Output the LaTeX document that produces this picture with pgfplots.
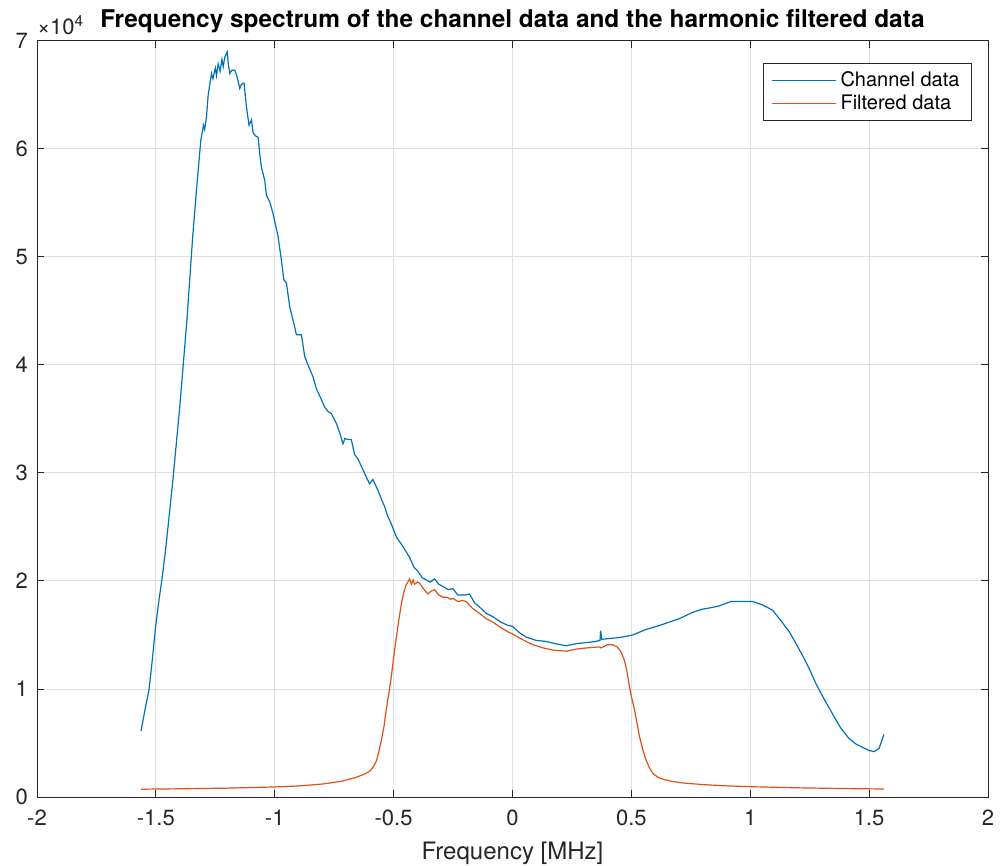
\documentclass[border=0pt]{standalone}
\usepackage{pgfplots}
\pgfplotsset{compat=1.18}
\usepackage{fontspec}
\setmainfont{TeX Gyre Heros}
\definecolor{mblue}{rgb}{0,0.447,0.741}
\definecolor{mred}{rgb}{0.85,0.325,0.098}
\definecolor{axgray}{rgb}{0.15,0.15,0.15}
\begin{document}
\begin{tikzpicture}
\useasboundingbox (-18.5pt,-34.5pt) rectangle (481.5pt,398.5pt);
\begin{axis}[
  at={(0,0)}, anchor=south west,
  scale only axis, width=475.5pt, height=378pt,
  xmin=-2, xmax=2, ymin=0, ymax=70000,
  xtick={-2,-1.5,...,2},
  ytick={0,10000,20000,30000,40000,50000,60000,70000},
  scaled y ticks=base 10:-4,
  ytick scale label code/.code={×10\textsuperscript{4}},
  every y tick scale label/.style={at={(rel axis cs:0,1)}, anchor=south west, inner sep=0pt, xshift=1pt, yshift=3pt, font=\fontsize{11pt}{13pt}\selectfont, text=axgray},
  /pgf/number format/assume math mode=true,
  tick label style={font=\fontsize{11pt}{13pt}\selectfont, text=axgray},
  xticklabel style={yshift=-3pt},
  yticklabel style={xshift=-1pt},
  grid=major,
  major grid style={color=black!13, line width=0.5pt},
  axis line style={color=axgray, line width=0.5pt},
  major tick style={color=axgray, line width=0.5pt},
  major tick length=3.5pt,
  tick align=inside,
  xlabel={Frequency [MHz]},
  xlabel style={font=\fontsize{12pt}{14pt}\selectfont, text=axgray, yshift=-1pt},
  title={\bfseries Frequency spectrum of the channel data and the harmonic filtered data},
  title style={font=\fontsize{12.2pt}{14pt}\selectfont, yshift=-5.5pt},
  legend style={at={(rel axis cs:1,1)}, anchor=north east, xshift=-8pt, yshift=-11pt,
    font=\fontsize{10pt}{12pt}\selectfont, draw=axgray, line width=0.5pt, inner ysep=2pt, inner xsep=4pt,
    row sep=-1.5pt, cells={anchor=west}},
  legend image code/.code={\draw[#1, line width=0.6pt] (0pt,0pt) -- (32pt,0pt);},
]
\addplot[color=mblue, line width=0.6pt] coordinates {
(-1.5625,6100) (-1.543,8400) (-1.529,9900) (-1.515,12700) (-1.501,15800) (-1.487,18200)
(-1.473,20400) (-1.459,22900) (-1.43,29000) (-1.40,36000) (-1.37,44000) (-1.346,51600)
(-1.33,56000) (-1.311,60800) (-1.30,62200) (-1.295,61800) (-1.287,63000) (-1.28,65000)
(-1.266,67000) (-1.26,66500) (-1.25,67500) (-1.245,66800) (-1.238,67900) (-1.23,67200)
(-1.222,68300) (-1.217,67600) (-1.21,68500) (-1.20,69000) (-1.195,67800) (-1.189,67000)
(-1.18,67300) (-1.168,67300) (-1.16,66800) (-1.147,65600) (-1.14,66000) (-1.129,66100)
(-1.125,65200) (-1.119,63900) (-1.112,62800) (-1.108,62200) (-1.098,62700) (-1.091,61500)
(-1.08,61200) (-1.07,61100) (-1.063,59500) (-1.056,58300) (-1.042,57100) (-1.035,55700)
(-1.021,55100) (-1.007,54000) (-0.986,51900) (-0.972,49700) (-0.962,47900) (-0.951,47600)
(-0.937,45400) (-0.916,43500) (-0.909,42800) (-0.888,42800) (-0.874,40800) (-0.860,40000)
(-0.839,38900) (-0.825,37800) (-0.804,36800) (-0.790,36100) (-0.776,35700) (-0.762,35500)
(-0.741,34600) (-0.725,33600) (-0.713,32700) (-0.705,33200) (-0.692,33100) (-0.678,33100)
(-0.664,31700) (-0.650,31300) (-0.629,30300) (-0.610,29400) (-0.601,29000) (-0.587,29400)
(-0.566,28400) (-0.550,27500) (-0.538,26900) (-0.525,26000) (-0.510,25300) (-0.489,24100)
(-0.461,23200) (-0.433,22200) (-0.415,21300) (-0.398,20900) (-0.380,20300) (-0.363,20100)
(-0.345,19900) (-0.328,20200) (-0.31,19700) (-0.293,19500) (-0.27,19200) (-0.251,19300)
(-0.23,18700) (-0.20,18700) (-0.181,18800) (-0.16,18000) (-0.139,17600) (-0.11,17000)
(-0.083,16700) (-0.05,16200) (-0.02,15900) (0.0,15800) (0.03,15200) (0.058,14800)
(0.10,14500) (0.142,14400) (0.18,14200) (0.226,14000) (0.27,14200) (0.31,14300)
(0.35,14400) (0.368,14500) (0.371,15400) (0.375,14600) (0.42,14700) (0.46,14800)
(0.505,15000) (0.56,15500) (0.62,15900) (0.70,16500) (0.758,17100) (0.80,17400)
(0.828,17500) (0.87,17700) (0.919,18100) (0.96,18100) (1.01,18100) (1.05,17800)
(1.094,17300) (1.13,16300) (1.164,15300) (1.19,14300) (1.22,13100) (1.25,11800)
(1.276,10500) (1.31,9100) (1.346,7700) (1.38,6400) (1.416,5400) (1.445,4900)
(1.472,4600) (1.50,4300) (1.521,4200) (1.542,4500) (1.5625,5800)
};
\addlegendentry{Channel data}
\addplot[color=mred, line width=0.6pt] coordinates {
(-1.5625,720) (-1.4,760) (-1.2,820) (-1.0,930) (-0.9,1020) (-0.8,1200) (-0.72,1450)
(-0.66,1800) (-0.62,2150) (-0.60,2400) (-0.585,2800) (-0.573,3300) (-0.562,4200)
(-0.552,5200) (-0.54,6600) (-0.531,8100) (-0.52,9600) (-0.51,11100) (-0.496,13600)
(-0.478,16400) (-0.468,17800) (-0.458,18900) (-0.448,19600) (-0.44,19900) (-0.433,20200)
(-0.425,19700) (-0.418,20100) (-0.412,19700) (-0.40,19900) (-0.391,19800) (-0.375,19300)
(-0.356,18800) (-0.34,19100) (-0.328,19200) (-0.31,18700) (-0.293,18500) (-0.275,18500)
(-0.26,18300) (-0.251,18400) (-0.23,18100) (-0.21,18200) (-0.195,18100) (-0.17,17500)
(-0.139,17000) (-0.11,16500) (-0.083,16200) (-0.05,15700) (-0.02,15300) (0.0,15100)
(0.04,14600) (0.085,14100) (0.13,13800) (0.17,13600) (0.226,13500) (0.27,13700)
(0.31,13800) (0.366,13900) (0.372,13800) (0.40,14100) (0.42,14100) (0.44,13900)
(0.455,13500) (0.47,12700) (0.48,11800) (0.49,10500) (0.50,9300) (0.513,8100)
(0.524,6800) (0.534,5600) (0.548,4400) (0.562,3400) (0.576,2700) (0.59,2200)
(0.61,1850) (0.632,1650) (0.67,1450) (0.716,1300) (0.80,1150) (0.90,1030)
(1.01,950) (1.2,850) (1.4,780) (1.5625,740)
};
\addlegendentry{Filtered data}
\end{axis}
\end{tikzpicture}
\end{document}
